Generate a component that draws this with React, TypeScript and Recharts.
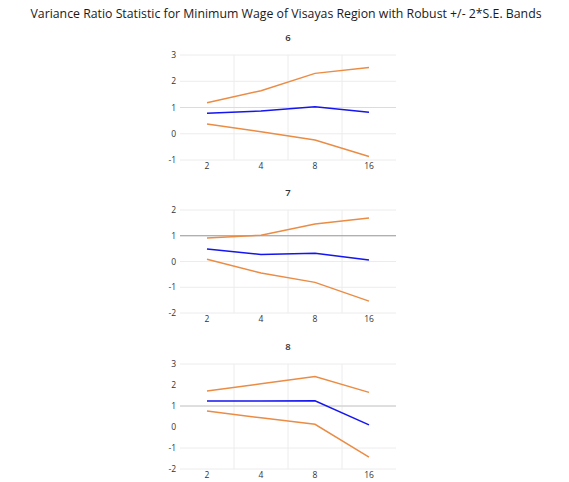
import React from "react";
import {
  LineChart,
  Line,
  XAxis,
  YAxis,
  CartesianGrid,
  ReferenceLine,
} from "recharts";

const lags = ["2", "4", "8", "16"];

// panel 6
const vr6 = [0.78, 0.87, 1.03, 0.82];
const upper6 = [1.18, 1.64, 2.3, 2.52];
const lower6 = [0.37, 0.08, -0.24, -0.87];

// panel 7
const vr7 = [0.49, 0.27, 0.32, 0.06];
const upper7 = [0.91, 1.02, 1.46, 1.69];
const lower7 = [0.09, -0.45, -0.81, -1.54];

// panel 8
const vr8 = [1.24, 1.24, 1.25, 0.1];
const upper8 = [1.71, 2.06, 2.4, 1.65];
const lower8 = [0.76, 0.44, 0.13, -1.43];

const ticks6 = [-1, 0, 1, 2, 3];
const ticks7 = [-2, -1, 0, 1, 2];
const ticks8 = [-2, -1, 0, 1, 2, 3];

const FONT = "'Open Sans', sans-serif";
const ORANGE = "#EB8C45";
const BLUE = "#1515F0";

const PLOT_LEFT = 180;
const PLOT_WIDTH = 216;

type PanelProps = {
  title: string;
  vr: number[];
  upper: number[];
  lower: number[];
  ticks: number[];
  plotTop: number;
  plotHeight: number;
  refColor: string;
};

const Panel: React.FC<PanelProps> = ({
  title,
  vr,
  upper,
  lower,
  ticks,
  plotTop,
  plotHeight,
  refColor,
}) => {
  const data = lags.map((lag, i) => ({
    lag,
    vr: vr[i],
    upper: upper[i],
    lower: lower[i],
  }));
  const chartLeft = 140;
  const chartWidth = 280;
  const top = 8;
  const axisH = 20;
  return (
    <>
      <div
        style={{
          position: "absolute",
          left: PLOT_LEFT,
          width: PLOT_WIDTH,
          top: plotTop - 24,
          textAlign: "center",
          fontFamily: FONT,
          fontSize: 9.5,
          fontWeight: 600,
          color: "#333",
        }}
      >
        {title}
      </div>
      <div
        style={{ position: "absolute", left: chartLeft, top: plotTop - top }}
      >
        <LineChart
          width={chartWidth}
          height={plotHeight + top + axisH}
          data={data}
          margin={{
            top,
            bottom: 0,
            left: PLOT_LEFT - chartLeft - 20,
            right: chartWidth - (PLOT_LEFT - chartLeft) - PLOT_WIDTH,
          }}
        >
          <CartesianGrid
            stroke="#ececec"
            strokeWidth={1}
            verticalCoordinatesGenerator={({ offset }: any) =>
              [1, 2, 3].map((i) => offset.left + (offset.width * i) / 4)
            }
          />
          <XAxis
            dataKey="lag"
            scale="band"
            axisLine={false}
            tickLine={false}
            tickSize={0}
            tickMargin={3}
            height={axisH}
            tick={{ fontSize: 8.5, fill: "#333", fontFamily: FONT }}
          />
          <YAxis
            type="number"
            domain={[ticks[0], ticks[ticks.length - 1]]}
            ticks={ticks}
            width={20}
            axisLine={false}
            tickLine={false}
            tickSize={0}
            tickMargin={4}
            tick={{ fontSize: 8.5, fill: "#333", fontFamily: FONT }}
          />
          <ReferenceLine y={1} stroke={refColor} strokeWidth={1} />
          <Line
            dataKey="upper"
            stroke={ORANGE}
            strokeWidth={1.5}
            dot={false}
            isAnimationActive={false}
          />
          <Line
            dataKey="lower"
            stroke={ORANGE}
            strokeWidth={1.5}
            dot={false}
            isAnimationActive={false}
          />
          <Line
            dataKey="vr"
            stroke={BLUE}
            strokeWidth={1.5}
            dot={false}
            isAnimationActive={false}
          />
        </LineChart>
      </div>
    </>
  );
};

const App: React.FC = () => {
  return (
    <div
      style={{
        position: "absolute",
        left: 0,
        top: 0,
        width: 569,
        height: 482,
        background: "#fff",
        overflow: "hidden",
      }}
    >
      <div
        style={{
          position: "absolute",
          left: 0,
          width: 572,
          top: 5,
          textAlign: "center",
          fontFamily: FONT,
          fontSize: 12.3,
          color: "#1a1a1a",
        }}
      >
        Variance Ratio Statistic for Minimum Wage of Visayas Region with Robust
        +/- 2*S.E. Bands
      </div>
      <Panel
        title="6"
        vr={vr6}
        upper={upper6}
        lower={lower6}
        ticks={ticks6}
        plotTop={55}
        plotHeight={105}
        refColor="#dcdcdc"
      />
      <Panel
        title="7"
        vr={vr7}
        upper={upper7}
        lower={lower7}
        ticks={ticks7}
        plotTop={210}
        plotHeight={103}
        refColor="#9a9a9a"
      />
      <Panel
        title="8"
        vr={vr8}
        upper={upper8}
        lower={lower8}
        ticks={ticks8}
        plotTop={364}
        plotHeight={105}
        refColor="#c8c8c8"
      />
    </div>
  );
};

export default App;
